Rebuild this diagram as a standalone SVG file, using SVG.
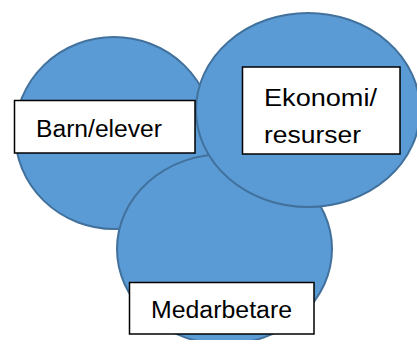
<svg xmlns="http://www.w3.org/2000/svg" width="417" height="340" viewBox="0 0 417 340">
<style>
.c{fill:#5B9BD5;stroke:#41719C;stroke-width:2}
.b{fill:#fff;stroke:#000;stroke-width:1.5}
.t{font-family:"Liberation Sans",Arial,sans-serif;font-size:23px;fill:#000}
</style>
<rect width="417" height="340" fill="#fff"/>
<g id="barn">
<ellipse class="c" cx="114" cy="133" rx="99" ry="96"/>
</g>
<g id="medarbetare">
<ellipse class="c" cx="224.5" cy="249" rx="107.5" ry="95"/>
</g>
<g id="ekonomi">
<ellipse class="c" cx="308" cy="110" rx="112" ry="97"/>
</g>
<g id="connectors"></g>
<g id="label-barn">
<rect class="b" x="14.5" y="100.5" width="180.5" height="52.5"/>
<text class="t" x="36" y="137" textLength="126" lengthAdjust="spacingAndGlyphs">Barn/elever</text>
</g>
<g id="label-ekonomi">
<rect class="b" x="242.5" y="67" width="157.5" height="87"/>
<text class="t" x="264" y="106" textLength="113" lengthAdjust="spacingAndGlyphs">Ekonomi/</text>
<text class="t" x="264" y="143" textLength="97" lengthAdjust="spacingAndGlyphs">resurser</text>
</g>
<g id="label-medarbetare">
<rect class="b" x="129.5" y="282.5" width="184.5" height="51.5"/>
<text class="t" x="151" y="318" textLength="141" lengthAdjust="spacingAndGlyphs">Medarbetare</text>
</g>
</svg>
